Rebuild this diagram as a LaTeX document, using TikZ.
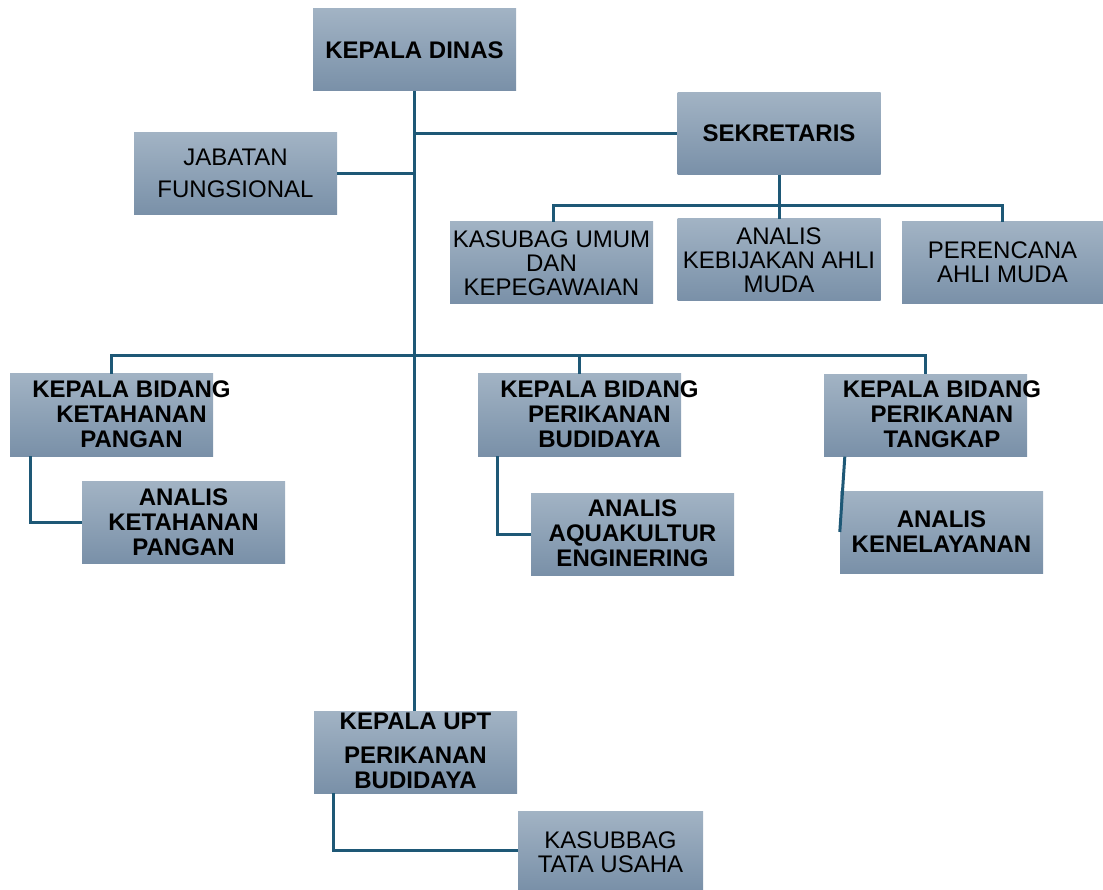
\documentclass[tikz,border=0pt]{standalone}
\usepackage{fontspec}
\setmainfont{Liberation Sans}
\definecolor{boxtop}{RGB}{162,179,196}
\definecolor{boxbot}{RGB}{121,144,168}
\definecolor{conn}{RGB}{30,88,118}
\begin{document}
\begin{tikzpicture}[x=1pt,y=-1pt,
  box/.style={rectangle, draw=none, top color=boxtop, bottom color=boxbot, minimum width=203pt, minimum height=82pt, inner sep=0pt, align=center},
  bt/.style={font=\fontsize{24}{25}\selectfont\bfseries, align=center, inner sep=0pt},
  rt/.style={font=\fontsize{24}{24}\selectfont, align=center, inner sep=0pt},
  link/.style={draw=conn, line width=3pt}]
\useasboundingbox (0,0) rectangle (1103,890);
% boxes
\node[box] (kd) at (414.5,50) {};
\node[bt] (kdt) at (kd.center) {KEPALA DINAS};
\node[box] (sek) at (779,133.5) {};
\node[bt] (sekt) at (sek.center) {SEKRETARIS};
\node[box] (jf) at (235.5,174) {};
\node[rt] (jft) at (235.5,173) {JABATAN\\[8pt]FUNGSIONAL};
\node[box] (ks) at (551.5,263) {};
\node[rt] (kst) at (ks.center) {KASUBAG UMUM\\DAN\\KEPEGAWAIAN};
\node[box] (ak) at (779,260) {};
\node[rt] (akt) at (ak.center) {ANALIS\\KEBIJAKAN AHLI\\MUDA};
\node[box, minimum width=201pt] (pr) at (1002.5,263) {};
\node[rt] (prt) at (1002.5,262) {PERENCANA\\AHLI MUDA};
\node[box] (kbkp) at (111.5,415) {};
\node[bt] (kbkpt) at (131.5,414) {KEPALA BIDANG\\KETAHANAN\\PANGAN};
\node[box] (kbpb) at (579.5,415) {};
\node[bt] (kbpbt) at (599.5,414) {KEPALA BIDANG\\PERIKANAN\\BUDIDAYA};
\node[box] (kbt) at (925.5,415.5) {};
\node[bt] (kbtt) at (942,414) {KEPALA BIDANG\\PERIKANAN\\TANGKAP};
\node[box] (akp) at (183.5,522.5) {};
\node[bt] (akpt) at (akp.center) {ANALIS\\KETAHANAN\\PANGAN};
\node[box] (aae) at (632.5,534) {};
\node[bt] (aaet) at (632.5,533.5) {ANALIS\\AQUAKULTUR\\ENGINERING};
\node[box] (akn) at (941.5,532) {};
\node[bt] (aknt) at (941.5,532) {ANALIS\\KENELAYANAN};
\node[box] (kupt) at (415.5,752) {};
\node[bt] (kuptt) at (415.5,751) {KEPALA UPT\\[9pt]PERIKANAN\\BUDIDAYA};
\node[box, minimum width=185pt, minimum height=79pt] (ktu) at (610.5,850.5) {};
\node[rt] (ktut) at (610.5,852) {KASUBBAG\\TATA USAHA};
% connectors
\coordinate (bus) at (0,356);
\coordinate (sbus) at (0,206);
\draw[link] (kd.south) -- (kd.south |- kupt.north);
\draw[link] (kd.south |- sek.west) -- (sek.west);
\draw[link] (jf.east) -- (jf.east -| kd.south);
\draw[link] (sek.south) -- (ak.north);
\draw[link] ([xshift=1.5pt]ks.north) |- (sbus -| pr.north) -- (pr.north);
\draw[link] (kbkp.north) |- (bus -| kbt.north) -- (kbt.north);
\draw[link] (kbpb.north) -- (bus -| kbpb.north);
\draw[link] ([xshift=21pt]kbkp.south west) |- (akp.west);
\draw[link] ([xshift=20pt]kbpb.south west) |- (aae.west);
\draw[link] ([xshift=21pt]kbt.south west) -- (akn.west);
\draw[link] ([xshift=20pt]kupt.south west) |- (ktu.west);
\end{tikzpicture}
\end{document}
